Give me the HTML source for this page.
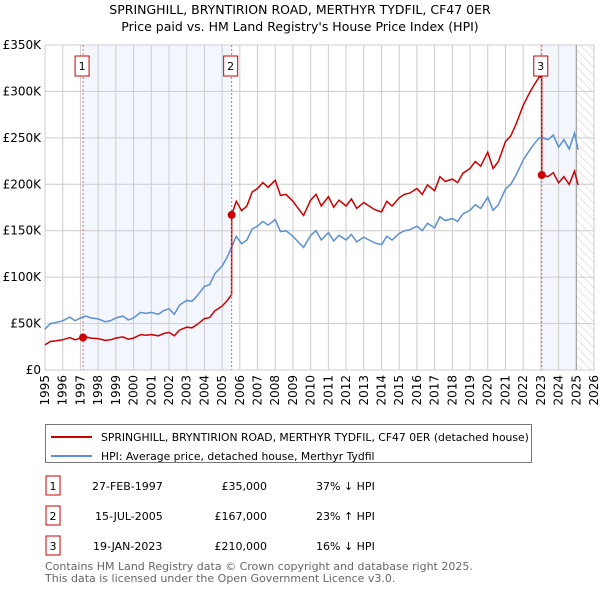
<!DOCTYPE html>
<html><head><meta charset="utf-8"><style>
body{margin:0;background:#fff;width:600px;height:590px;overflow:hidden;font-family:"DejaVu Sans","Liberation Sans",sans-serif;}
svg text{font-family:"DejaVu Sans","Liberation Sans",sans-serif;}
</style></head><body>
<svg id="chart" width="600" height="590" viewBox="0 0 600 590" xmlns="http://www.w3.org/2000/svg">
<defs><pattern id="hatch" width="6" height="6" patternUnits="userSpaceOnUse" patternTransform="rotate(-45)"><line x1="0" y1="0" x2="0" y2="6" stroke="#ccc" stroke-width="1"/></pattern></defs>
<text x="300" y="14" text-anchor="middle" font-size="12.5">SPRINGHILL, BRYNTIRION ROAD, MERTHYR TYDFIL, CF47 0ER</text>
<text x="300" y="31" text-anchor="middle" font-size="12.5">Price paid vs. HM Land Registry's House Price Index (HPI)</text>
<g id="bg"></g><g id="grid"></g><g id="series"></g><g id="axes"></g>
<g>
<rect x="45.5" y="424.5" width="486" height="38" fill="#fff" stroke="#777"/>
<line x1="51" y1="437" x2="92" y2="437" stroke="#cc0000" stroke-width="2"/>
<text x="101" y="441" font-size="10.8">SPRINGHILL, BRYNTIRION ROAD, MERTHYR TYDFIL, CF47 0ER (detached house)</text>
<line x1="51" y1="456" x2="92" y2="456" stroke="#5b8fd1" stroke-width="2"/>
<text x="101" y="460" font-size="10.8">HPI: Average price, detached house, Merthyr Tydfil</text>
</g>
<g font-size="11">
<g><rect x="46" y="476" width="14" height="19" fill="#fff" stroke="#cc0000"/><text x="53" y="490" text-anchor="middle">1</text><text x="92" y="490">27-FEB-1997</text><text x="267" y="490" text-anchor="end">£35,000</text><text x="316" y="490">37% ↓ HPI</text></g>
<g><rect x="46" y="506" width="14" height="19" fill="#fff" stroke="#cc0000"/><text x="53" y="520" text-anchor="middle">2</text><text x="95" y="520">15-JUL-2005</text><text x="267" y="520" text-anchor="end">£167,000</text><text x="316" y="520">23% ↑ HPI</text></g>
<g><rect x="46" y="536" width="14" height="19" fill="#fff" stroke="#cc0000"/><text x="53" y="550" text-anchor="middle">3</text><text x="93" y="550">19-JAN-2023</text><text x="267" y="550" text-anchor="end">£210,000</text><text x="316" y="550">16% ↓ HPI</text></g>
</g>
<text x="45" y="570" font-size="11" fill="#666">Contains HM Land Registry data © Crown copyright and database right 2025.</text>
<text x="45" y="582" font-size="11" fill="#666">This data is licensed under the Open Government Licence v3.0.</text>
</svg>
<script>
const yTicks=[0,50000,100000,150000,200000,250000,300000,350000];
const yTickLabels=["£0","£50K","£100K","£150K","£200K","£250K","£300K","£350K"];
const xYears=[1995,1996,1997,1998,1999,2000,2001,2002,2003,2004,2005,2006,2007,2008,2009,2010,2011,2012,2013,2014,2015,2016,2017,2018,2019,2020,2021,2022,2023,2024,2025,2026];
const hpiDates=[1995.0,1995.3,1995.6,1996.0,1996.4,1996.7,1997.0,1997.3,1997.6,1998.0,1998.4,1998.7,1999.0,1999.4,1999.7,2000.0,2000.4,2000.7,2001.0,2001.4,2001.7,2002.0,2002.3,2002.6,2003.0,2003.3,2003.6,2004.0,2004.3,2004.6,2005.0,2005.3,2005.6,2005.8,2006.1,2006.4,2006.7,2007.0,2007.3,2007.6,2008.0,2008.3,2008.6,2009.0,2009.3,2009.6,2010.0,2010.3,2010.6,2011.0,2011.3,2011.6,2012.0,2012.3,2012.6,2013.0,2013.3,2013.6,2014.0,2014.3,2014.6,2015.0,2015.3,2015.6,2016.0,2016.3,2016.6,2017.0,2017.3,2017.6,2018.0,2018.3,2018.6,2019.0,2019.3,2019.6,2020.0,2020.3,2020.6,2021.0,2021.3,2021.6,2022.0,2022.3,2022.6,2022.9,2023.1,2023.4,2023.7,2024.0,2024.3,2024.6,2024.9,2025.1];
const hpiValues=[44000,50000,51000,53000,57000,53000,56000,58000,56000,55000,52000,53000,56000,58000,54000,56000,62000,61000,62000,60000,64000,66000,60000,70000,75000,74000,80000,90000,92000,104000,112000,122000,135000,144000,136000,140000,152000,155000,160000,156000,162000,149000,150000,144000,138000,132000,145000,150000,140000,148000,139000,145000,140000,146000,138000,143000,140000,137000,135000,144000,140000,147000,150000,151000,155000,150000,158000,153000,165000,161000,163000,160000,168000,172000,178000,174000,186000,172000,178000,195000,200000,210000,226000,235000,243000,250000,250000,248000,253000,240000,248000,238000,255000,237000];
const saleDates=[1997.15,2005.54,2023.05];
const salePrices=[35000,167000,210000];
const saleLabels=["1","2","3"];
const X0=45,X1=594,Y0=370,Y1=45;
function xs(t){return X0+(t-1995)/(2026-1995)*(X1-X0);}
function ys(v){return Y0-v/350000*(Y0-Y1);}
const NS="http://www.w3.org/2000/svg";
function mk(tag,attrs,parent){const e=document.createElementNS(NS,tag);for(const k in attrs)e.setAttribute(k,attrs[k]);parent.appendChild(e);return e;}
const bg=document.getElementById('bg'),grid=document.getElementById('grid'),ser=document.getElementById('series'),ax=document.getElementById('axes');
let r=mk('rect',{x:xs(saleDates[0]),y:Y1,width:xs(saleDates[1])-xs(saleDates[0]),height:Y0-Y1,fill:'#eef3fc',opacity:0.7},bg);


r=mk('rect',{x:xs(saleDates[2]),y:Y1,width:xs(2025)-xs(saleDates[2]),height:Y0-Y1,fill:'#eef3fc',opacity:0.7},bg);


r=mk('rect',{x:xs(2025),y:Y1,width:X1-xs(2025),height:Y0-Y1,fill:'url(#hatch)'},bg);


yTicks.forEach((v,i)=>{
 const l=mk('line',{x1:X0,x2:X1,y1:ys(v),y2:ys(v),stroke:'#ccc','stroke-width':1},grid);
 
 
 const t=mk('text',{x:X0-4,y:ys(v)+4,'text-anchor':'end','font-size':12},ax);
 t.textContent=yTickLabels[i];
 
 
});
xYears.forEach(yr=>{
 const l=mk('line',{x1:xs(yr),x2:xs(yr),y1:Y1,y2:Y0,stroke:'#ccc','stroke-width':1},grid);
 
 
 const t=mk('text',{x:0,y:0,'text-anchor':'end','font-size':12,transform:`translate(${xs(yr)+4},${Y0+5}) rotate(-90)`},ax);
 t.textContent=yr;
 
 
});
let vl=mk('line',{x1:xs(2025),x2:xs(2025),y1:Y1,y2:Y0,stroke:'#999','stroke-width':1},grid);


const hp=hpiDates.map((d,i)=>xs(d).toFixed(1)+','+ys(hpiValues[i]).toFixed(1)).join(' ');
const hl=mk('polyline',{points:hp,fill:'none',stroke:'#5b8fd1','stroke-width':1.5},ser);


function hpiAt(t){for(let i=1;i<hpiDates.length;i++){if(t<=hpiDates[i]){const f=(t-hpiDates[i-1])/(hpiDates[i]-hpiDates[i-1]);return hpiValues[i-1]+f*(hpiValues[i]-hpiValues[i-1]);}}return hpiValues[hpiValues.length-1];}
const pts=[];
hpiDates.forEach((d,i)=>{
 let k=0;for(let j=0;j<saleDates.length;j++)if(d>=saleDates[j])k=j;
 const ratio=salePrices[k]/hpiAt(saleDates[k]);
 pts.push([d,hpiValues[i]*ratio]);
});
saleDates.forEach((d,j)=>{
 if(j>0){const prevRatio=salePrices[j-1]/hpiAt(saleDates[j-1]);pts.push([d-0.001,hpiAt(d)*prevRatio]);}
 pts.push([d,salePrices[j]]);
});
pts.sort((a,b)=>a[0]-b[0]);
const rl=mk('polyline',{points:pts.map(p=>xs(p[0]).toFixed(1)+','+ys(p[1]).toFixed(1)).join(' '),fill:'none',stroke:'#cc0000','stroke-width':1.5},ser);


saleDates.forEach((d,j)=>{
 const l=mk('line',{x1:xs(d),x2:xs(d),y1:Y1,y2:Y0,stroke:'#e06060','stroke-width':1,'stroke-dasharray':'2,2'},ser);
 
 
 const c=mk('circle',{cx:xs(d),cy:ys(salePrices[j]),r:4,fill:'#cc0000'},ser);
 
 
 const b=mk('rect',{x:xs(d)-8,y:56,width:14,height:20,fill:'#fff',stroke:'#cc0000'},ser);
 
 
 const t=mk('text',{x:xs(d)-1,y:70,'text-anchor':'middle','font-size':11},ser);
 t.textContent=saleLabels[j];
 
 
});
</script>
</body></html>
